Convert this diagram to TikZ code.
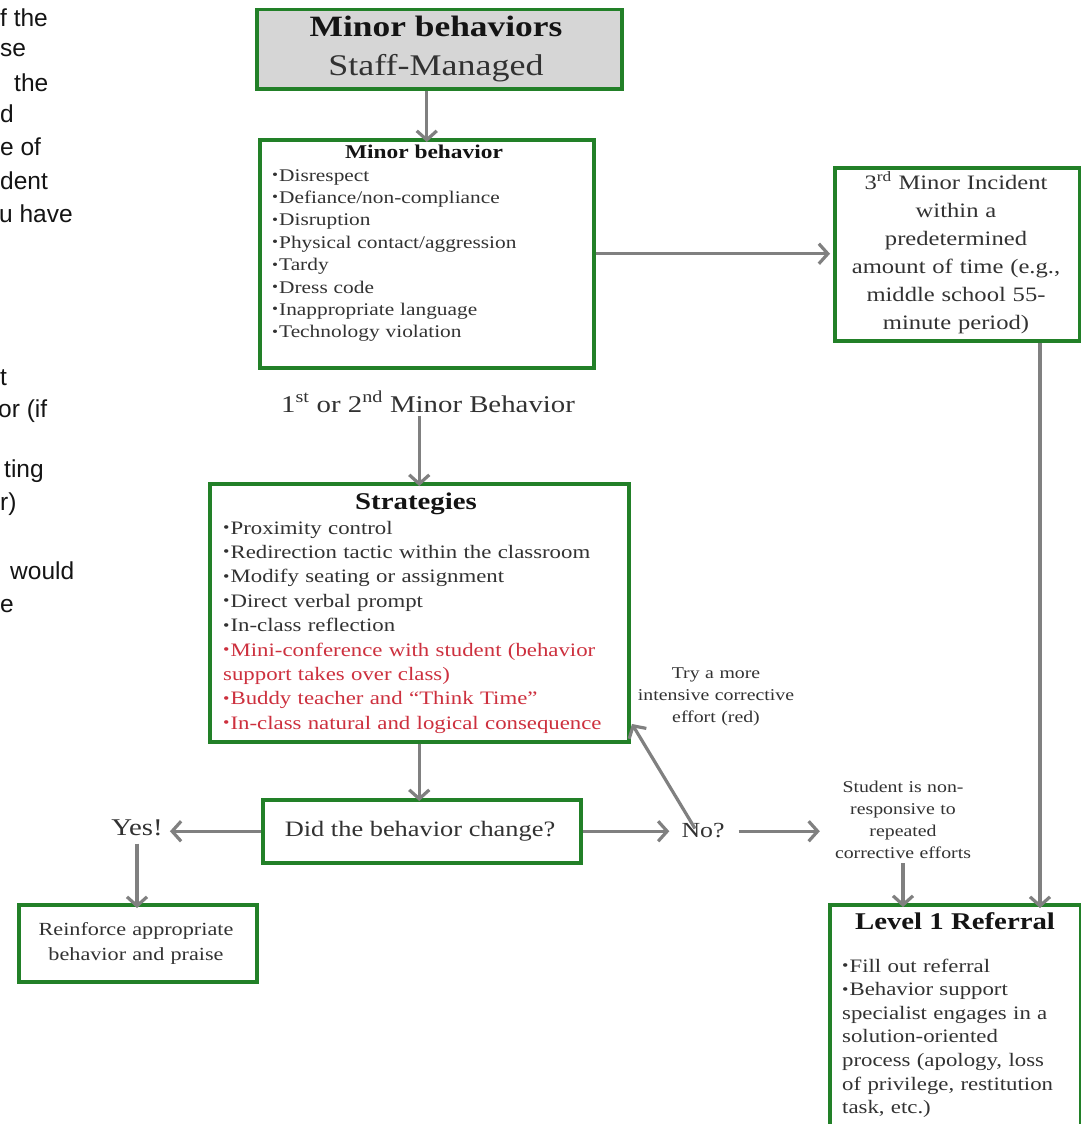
\documentclass[tikz,border=0pt]{standalone}
\usepackage{fontspec}
\setmainfont{Liberation Serif}[FakeStretch=1.2]
\newfontfamily\fragfont{Liberation Sans}
\usetikzlibrary{arrows.meta}

\definecolor{bgreen}{RGB}{34,128,40}
\definecolor{boxgray}{RGB}{214,214,214}
\definecolor{agray}{RGB}{128,128,128}
\definecolor{tgray}{RGB}{50,50,50}
\definecolor{tdark}{RGB}{20,20,20}
\definecolor{sred}{RGB}{205,48,62}

\newcommand\fsz[2]{\fontsize{#1}{#2}\selectfont}
\newcommand\bul{\raisebox{.08em}{\scalebox{.8}{\textbullet}}\hspace{1pt}}

\tikzset{
  box/.style={draw=bgreen, line width=3.5pt, inner sep=0pt, anchor=north west},
  arr/.style={draw=agray, line width=3.2pt, -{Straight Barb[length=9pt,width=20pt]}},
  frag/.style={anchor=base west, inner sep=0pt, text=tdark, font=\fragfont\fontsize{24.5}{24.5}\selectfont},
  plain/.style={inner sep=0pt, text=tgray},
}

\begin{document}
\begin{tikzpicture}[x=1pt,y=-1pt]
\useasboundingbox (0,0) rectangle (1081,1124);
\clip (0,0) rectangle (1081,1124);
\fill[white] (0,0) rectangle (1081,1124);

% running text of the neighbouring column, cut at the left edge
\node[frag] (f1) at (0,27) {f the};
\node[frag] (f2) at (0,57) {se};
\node[frag] (f3) at (14,91) {the};
\node[frag] (f4) at (0,122) {d};
\node[frag] (f5) at (0,155) {e of};
\node[frag] (f6) at (0,189) {dent};
\node[frag] (f7) at (-1,222) {u have};
\node[frag] (f8) at (0,385) {t};
\node[frag] (f9) at (-2,417) {or (if};
\node[frag] (f10) at (4,477) {ting};
\node[frag] (f11) at (0,510) {r)};
\node[frag] (f12) at (10,579) {would};
\node[frag] (f13) at (0,612) {e};

% boxes
\node[box, fill=boxgray, minimum width=365pt, minimum height=79pt] (top) at (255,8) {};
\node[box, minimum width=334pt, minimum height=228pt] (mb) at (258,138) {};
\node[box, minimum width=245pt, minimum height=173pt] (rb) at (833,166) {};
\node[box, minimum width=419pt, minimum height=258pt] (st) at (208,482) {};
\node[box, minimum width=318pt, minimum height=63pt] (did) at (261,798) {};
\node[box, minimum width=238pt, minimum height=77pt] (rf) at (17,903) {};
\node[box, minimum width=251pt, minimum height=240pt] (l1) at (828,903) {};

% texts
\node[plain, anchor=base, text=tdark, font=\fsz{29.5}{38}\bfseries] (topA) at (436,37) {Minor behaviors};
\node[plain, anchor=base, text=tgray, font=\fsz{30}{38}] (topB) at (436,76) {Staff-Managed};

\node[plain, anchor=base, text=tdark, font=\fsz{19.5}{22}\bfseries] (mbt) at (424,158) {Minor behavior};
\node[plain, anchor=base west, text width=318pt, align=left, font=\fsz{17.8}{22.4}] (mbl) at (272,181)
  {\bul Disrespect\\ \bul Defiance/non-compliance\\ \bul Disruption\\ \bul Physical contact/aggression\\
   \bul Tardy\\ \bul Dress code\\ \bul Inappropriate language\\ \bul Technology violation};

\node[plain, anchor=base, text width=245pt, align=center, font=\fsz{20.5}{28}] (rbt) at (956,189)
  {3\textsuperscript{rd} Minor Incident\\ within a\\ predetermined\\ amount of time (e.g.,\\ middle school 55-\\ minute period)};

\node[plain, anchor=base, font=\fsz{24}{26}] (lbl) at (428,412) {1\textsuperscript{st} or 2\textsuperscript{nd} Minor Behavior};

\node[plain, anchor=base, text=tdark, font=\fsz{24}{26}\bfseries] (stt) at (416,509) {Strategies};
\node[plain, anchor=base west, text width=405pt, align=left, font=\fsz{19}{24.4}] (stl) at (223,534)
  {\bul Proximity control\\ \bul Redirection tactic within the classroom\\ \bul Modify seating or assignment\\
   \bul Direct verbal prompt\\ \bul In-class reflection\\
   \textcolor{sred}{\bul Mini-conference with student (behavior}\\
   \textcolor{sred}{support takes over class)}\\
   \textcolor{sred}{\bul Buddy teacher and ``Think Time''}\\
   \textcolor{sred}{\bul In-class natural and logical consequence}};

\node[plain, anchor=base, font=\fsz{22}{26}] (didt) at (420,836) {Did the behavior change?};
\node[plain, anchor=base, font=\fsz{24}{26}] (yes) at (137,835) {Yes!};
\node[plain, anchor=base, font=\fsz{21.5}{26}] (no) at (703,837) {No?};

\node[plain, anchor=base, text width=236pt, align=center, font=\fsz{18.5}{25}] (rft) at (136,935)
  {Reinforce appropriate\\ behavior and praise};

\node[plain, anchor=base, text width=200pt, align=center, font=\fsz{16.5}{22}] (try) at (716,678)
  {Try a more\\ intensive corrective\\ effort (red)};

\node[plain, anchor=base, text width=160pt, align=center, font=\fsz{16.5}{22.3}] (stu) at (903,792)
  {Student is non-\\ responsive to\\ repeated\\ corrective efforts};

\node[plain, anchor=base, text=tdark, font=\fsz{24}{26}\bfseries] (l1t) at (955,929) {Level 1 Referral};
\node[plain, anchor=base west, text width=238pt, align=left, font=\fsz{19}{23.6}] (l1l) at (842,972)
  {\bul Fill out referral\\ \bul Behavior support\\ specialist engages in a\\ solution-oriented\\
   process (apology, loss\\ of privilege, restitution\\ task, etc.)};

% connectors
\coordinate (rx) at (1040,0);
\coordinate (tip) at (632,724);
\draw[arr] (top.south -| mb.north) -- ([yshift=-4pt]mb.north);
\draw[arr] (mb.east) -- ([xshift=-3pt]rb.west |- mb.east);
\draw[arr] (rb.south -| rx) -- ([yshift=-5pt]l1.north -| rx);
\draw[arr] ([yshift=-4pt]lbl.south -| st.north) -- ([yshift=-4pt]st.north);
\draw[arr] (st.south) -- ([yshift=-3pt]did.north -| st.south);
\draw[arr] (did.west) -- ([xshift=7pt]yes.east |- did.west);
\draw[arr] ([yshift=-8pt]yes.south) -- ([yshift=-5pt]rf.north -| yes.south);
\draw[arr] (did.east) -- ([xshift=-12pt]no.west |- did.east);
\draw[arr] ([xshift=14pt]no.east |- did.east) -- ([xshift=-3pt]stu.west |- did.east);
\draw[arr] ([xshift=-8pt,yshift=-6pt]no.north) -- (tip);
\draw[arr] ([yshift=-4pt]stu.south) -- ([yshift=-4pt]l1.north -| stu.south);
\end{tikzpicture}
\end{document}
